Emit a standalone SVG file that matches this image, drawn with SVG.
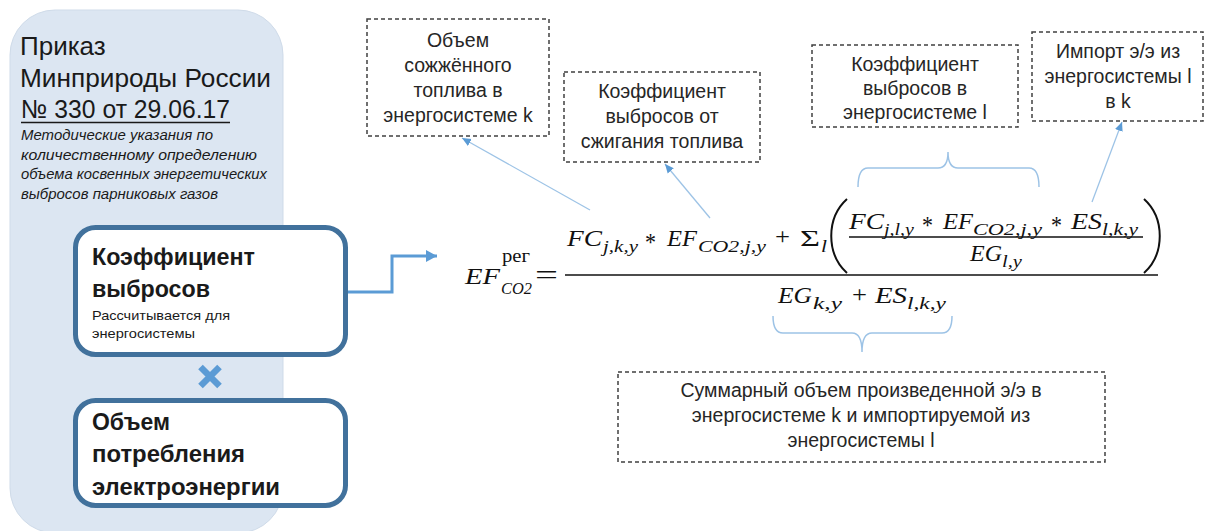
<svg xmlns="http://www.w3.org/2000/svg" width="1206" height="531" viewBox="0 0 1206 531">
<defs>
<style>
.sans{font-family:"Liberation Sans",Arial,sans-serif;fill:#1a1a1a}
.lbl{font-family:"Liberation Sans",Arial,sans-serif;font-size:19.5px;fill:#262626;text-anchor:middle}
.dash{fill:#fff;stroke:#404040;stroke-width:1.5;stroke-dasharray:4 3}
.card{fill:#fff;stroke:#41719c;stroke-width:5}
.m{font-family:"Liberation Serif","Times New Roman",serif;font-style:italic;font-size:24px;fill:#111}
.ms{font-family:"Liberation Serif","Times New Roman",serif;font-style:italic;font-size:17px;fill:#111}
.up{font-family:"Liberation Serif","Times New Roman",serif;font-style:normal;fill:#111}
.thin{fill:none;stroke:#9dc3e6;stroke-width:1.3}
.brace{fill:none;stroke:#9dc3e6;stroke-width:1.5}
</style>
<marker id="ah" markerWidth="10" markerHeight="10" refX="9" refY="5" orient="auto" markerUnits="userSpaceOnUse">
<path d="M0,1 L9,5 L0,9 Z" fill="#5b9bd5"/>
</marker>
<marker id="ahBig" markerWidth="12" markerHeight="12" refX="11" refY="6" orient="auto" markerUnits="userSpaceOnUse">
<path d="M0,0 L11,6 L0,12 Z" fill="#5b9bd5"/>
</marker>
</defs>

<g id="panel">
<rect x="10" y="10" width="273" height="523" rx="45" fill="#dce6f2" stroke="#cfdbe9" stroke-width="1"/>
<text class="sans" x="20" y="55" font-size="26">Приказ</text>
<text class="sans" x="20" y="87" font-size="26" textLength="251" lengthAdjust="spacingAndGlyphs">Минприроды России</text>
<text class="sans" x="21" y="118" font-size="26" textLength="209" lengthAdjust="spacingAndGlyphs">№ 330 от 29.06.17</text>
<line x1="21" y1="122.5" x2="230" y2="122.5" stroke="#1a1a1a" stroke-width="1.6"/>
<g class="sans" font-size="14" font-style="italic" fill="#262626">
<text x="21" y="140" textLength="192" lengthAdjust="spacingAndGlyphs">Методические указания по</text>
<text x="21" y="159.5" textLength="236" lengthAdjust="spacingAndGlyphs">количественному определению</text>
<text x="21" y="179" textLength="246" lengthAdjust="spacingAndGlyphs">объема косвенных энергетических</text>
<text x="21" y="198.5" textLength="197" lengthAdjust="spacingAndGlyphs">выбросов парниковых газов</text>
</g>
</g>

<g id="node-coef">
<rect class="card" x="75.5" y="227.5" width="270" height="127" rx="20"/>
<text class="sans" x="92" y="265" font-size="23" font-weight="bold" textLength="163" lengthAdjust="spacingAndGlyphs">Коэффициент</text>
<text class="sans" x="92" y="297" font-size="23" font-weight="bold" textLength="118" lengthAdjust="spacingAndGlyphs">выбросов</text>
<text class="sans" x="92" y="320" font-size="13" fill="#333" textLength="138" lengthAdjust="spacingAndGlyphs">Рассчитывается для</text>
<text class="sans" x="92" y="338" font-size="13" fill="#333" textLength="103" lengthAdjust="spacingAndGlyphs">энергосистемы</text>
</g>

<g id="times">
<path d="M200.5,367 L219.5,386 M219.5,367 L200.5,386" stroke="#5b9bd5" stroke-width="6.5" fill="none"/>
</g>

<g id="node-volume">
<rect class="card" x="75.5" y="400.5" width="270" height="105" rx="20"/>
<text class="sans" x="92" y="430" font-size="23" font-weight="bold" textLength="78" lengthAdjust="spacingAndGlyphs">Объем</text>
<text class="sans" x="92" y="462" font-size="23" font-weight="bold" textLength="153" lengthAdjust="spacingAndGlyphs">потребления</text>
<text class="sans" x="92" y="495" font-size="23" font-weight="bold" textLength="188" lengthAdjust="spacingAndGlyphs">электроэнергии</text>
</g>

<g id="formula">
<text class="m" x="465" y="284" textLength="35" lengthAdjust="spacingAndGlyphs">EF</text>
<text class="up" x="502" y="262" font-size="18" textLength="28" lengthAdjust="spacingAndGlyphs">рег</text>
<text class="ms" x="501" y="294" textLength="31" lengthAdjust="spacingAndGlyphs">CO2</text>
<text class="up" x="535" y="284" font-size="27" textLength="23" lengthAdjust="spacingAndGlyphs">=</text>
<line x1="565" y1="275" x2="1158" y2="275" stroke="#111" stroke-width="1.6"/>

<text class="m" x="567" y="246" textLength="35" lengthAdjust="spacingAndGlyphs">FC</text>
<text class="ms" x="603" y="252" textLength="35" lengthAdjust="spacingAndGlyphs">j,k,y</text>
<text class="up" x="645" y="251" font-size="25" textLength="11" lengthAdjust="spacingAndGlyphs">*</text>
<text class="m" x="667" y="246" textLength="30" lengthAdjust="spacingAndGlyphs">EF</text>
<text class="ms" x="698" y="252" textLength="68" lengthAdjust="spacingAndGlyphs">CO2,j,y</text>
<text class="up" x="775" y="244" font-size="24" textLength="15" lengthAdjust="spacingAndGlyphs">+</text>
<text class="up" x="800" y="246" font-size="23" textLength="20" lengthAdjust="spacingAndGlyphs">Σ</text>
<text class="ms" x="821" y="252" textLength="6" lengthAdjust="spacingAndGlyphs">l</text>
<path d="M847,199 C826,218 826,254 847,273" fill="none" stroke="#111" stroke-width="2"/>
<path d="M1144,199 C1165,218 1165,254 1144,273" fill="none" stroke="#111" stroke-width="2"/>

<text class="m" x="849" y="229" textLength="35" lengthAdjust="spacingAndGlyphs">FC</text>
<text class="ms" x="884" y="235" textLength="30" lengthAdjust="spacingAndGlyphs">j,l,y</text>
<text class="up" x="922" y="234" font-size="25" textLength="11" lengthAdjust="spacingAndGlyphs">*</text>
<text class="m" x="943" y="229" textLength="30" lengthAdjust="spacingAndGlyphs">EF</text>
<text class="ms" x="973" y="235" textLength="69" lengthAdjust="spacingAndGlyphs">CO2,j,y</text>
<text class="up" x="1051" y="234" font-size="25" textLength="11" lengthAdjust="spacingAndGlyphs">*</text>
<text class="m" x="1071" y="229" textLength="31" lengthAdjust="spacingAndGlyphs">ES</text>
<text class="ms" x="1102" y="235" textLength="36" lengthAdjust="spacingAndGlyphs">l,k,y</text>
<line x1="849" y1="237" x2="1143" y2="237" stroke="#111" stroke-width="1.4"/>
<text class="m" x="970" y="261" textLength="32" lengthAdjust="spacingAndGlyphs">EG</text>
<text class="ms" x="1002" y="267" textLength="20" lengthAdjust="spacingAndGlyphs">l,y</text>

<text class="m" x="778" y="303" textLength="34" lengthAdjust="spacingAndGlyphs">EG</text>
<text class="ms" x="813" y="309" textLength="29" lengthAdjust="spacingAndGlyphs">k,y</text>
<text class="up" x="852" y="302" font-size="24" textLength="15" lengthAdjust="spacingAndGlyphs">+</text>
<text class="m" x="875" y="303" textLength="32" lengthAdjust="spacingAndGlyphs">ES</text>
<text class="ms" x="907" y="309" textLength="39" lengthAdjust="spacingAndGlyphs">l,k,y</text>
</g>

<g id="note-fuel">
<rect class="dash" x="367" y="19" width="182" height="117"/>
<text class="lbl" x="458" y="47">Объем</text>
<text class="lbl" x="458" y="72">сожжённого</text>
<text class="lbl" x="458" y="97">топлива в</text>
<text class="lbl" x="458" y="122">энергосистеме k</text>
</g>

<g id="note-fuel-coef">
<rect class="dash" x="564" y="72" width="196" height="90"/>
<text class="lbl" x="662" y="98">Коэффициент</text>
<text class="lbl" x="662" y="123">выбросов от</text>
<text class="lbl" x="662" y="148">сжигания топлива</text>
</g>

<g id="note-coef-l">
<rect class="dash" x="812" y="45" width="206" height="82"/>
<text class="lbl" x="915" y="71">Коэффициент</text>
<text class="lbl" x="915" y="95">выбросов в</text>
<text class="lbl" x="915" y="119">энергосистеме l</text>
</g>

<g id="note-import">
<rect class="dash" x="1032" y="32" width="171" height="89"/>
<text class="lbl" x="1118" y="58">Импорт э/э из</text>
<text class="lbl" x="1118" y="83">энергосистемы l</text>
<text class="lbl" x="1118" y="108">в k</text>
</g>

<g id="note-total">
<rect class="dash" x="618" y="372" width="487" height="90"/>
<text class="lbl" x="861" y="397">Суммарный объем произведенной э/э в</text>
<text class="lbl" x="861" y="422">энергосистеме k и импортируемой из</text>
<text class="lbl" x="861" y="447">энергосистемы l</text>
</g>

<g id="connectors">
<path d="M348,292 H392 V256 H437" fill="none" stroke="#5b9bd5" stroke-width="3" marker-end="url(#ahBig)"/>
<line class="thin" x1="590" y1="210" x2="462" y2="138" marker-end="url(#ah)"/>
<line class="thin" x1="710" y1="218" x2="665" y2="164" marker-end="url(#ah)"/>
<line class="thin" x1="1092" y1="202" x2="1122" y2="122" marker-end="url(#ah)"/>
<path class="brace" d="M858,187 Q858,168 868,168 H938 Q948,168 948,152 Q948,168 958,168 H1029 Q1039,168 1039,187"/>
<path class="brace" d="M773,316 Q773,333 783,333 H852 Q862,333 862,352 Q862,333 872,333 H942 Q952,333 952,316"/>
</g>
</svg>
